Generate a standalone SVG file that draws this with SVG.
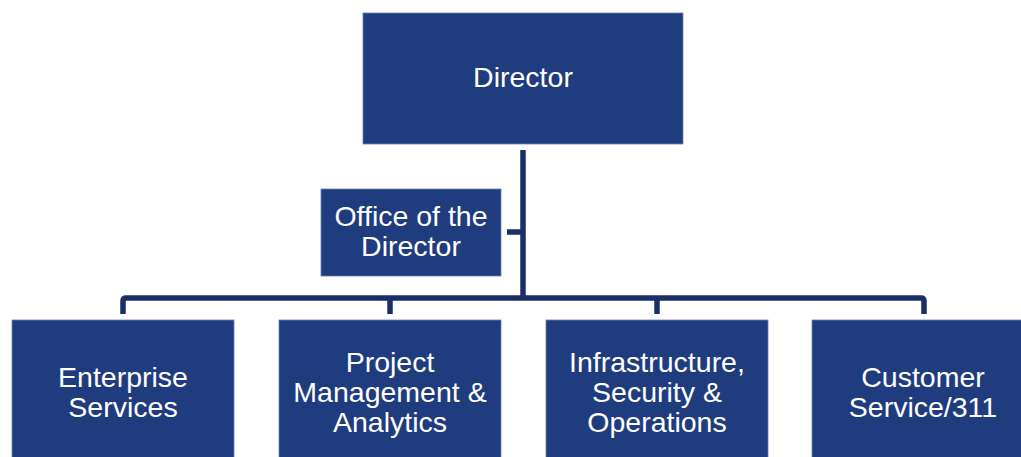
<svg xmlns="http://www.w3.org/2000/svg" width="1021" height="457" viewBox="0 0 1021 457">
<style>
.box{fill:#1f3c7e;stroke:#6a7fb3;stroke-width:0.8}
.t{font-family:"Liberation Sans",Arial,sans-serif;font-size:28.5px;fill:#ffffff;text-anchor:middle}
.c{fill:none;stroke:#1b2f68;stroke-width:5.5;stroke-linejoin:round}
</style>
<rect width="1021" height="457" fill="#ffffff"/>
<g id="connectors">
<path class="c" d="M523 150 V298"/>
<path class="c" d="M507 232 H523"/>
<path class="c" d="M123 314 V301 Q123 298 126 298 H921 Q924 298 924 301 V314"/>
<path class="c" d="M390 298 V314"/>
<path class="c" d="M657 298 V314"/>
</g>
<g id="director">
<rect class="box" x="363" y="13" width="320" height="131"/>
<text class="t" x="523" y="87">Director</text>
</g>
<g id="office">
<rect class="box" x="321" y="189" width="180" height="87"/>
<text class="t" x="411" y="226">Office of the</text>
<text class="t" x="411" y="256">Director</text>
</g>
<g id="enterprise">
<rect class="box" x="12" y="320" width="222" height="140"/>
<text class="t" x="123" y="387">Enterprise</text>
<text class="t" x="123" y="417">Services</text>
</g>
<g id="project">
<rect class="box" x="279" y="320" width="222" height="140"/>
<text class="t" x="390" y="372">Project</text>
<text class="t" x="390" y="402">Management &amp;</text>
<text class="t" x="390" y="432">Analytics</text>
</g>
<g id="infrastructure">
<rect class="box" x="546" y="320" width="222" height="140"/>
<text class="t" x="657" y="372">Infrastructure,</text>
<text class="t" x="657" y="402">Security &amp;</text>
<text class="t" x="657" y="432">Operations</text>
</g>
<g id="customer">
<rect class="box" x="812" y="320" width="222" height="140"/>
<text class="t" x="923" y="387">Customer</text>
<text class="t" x="923" y="417">Service/311</text>
</g>
</svg>
